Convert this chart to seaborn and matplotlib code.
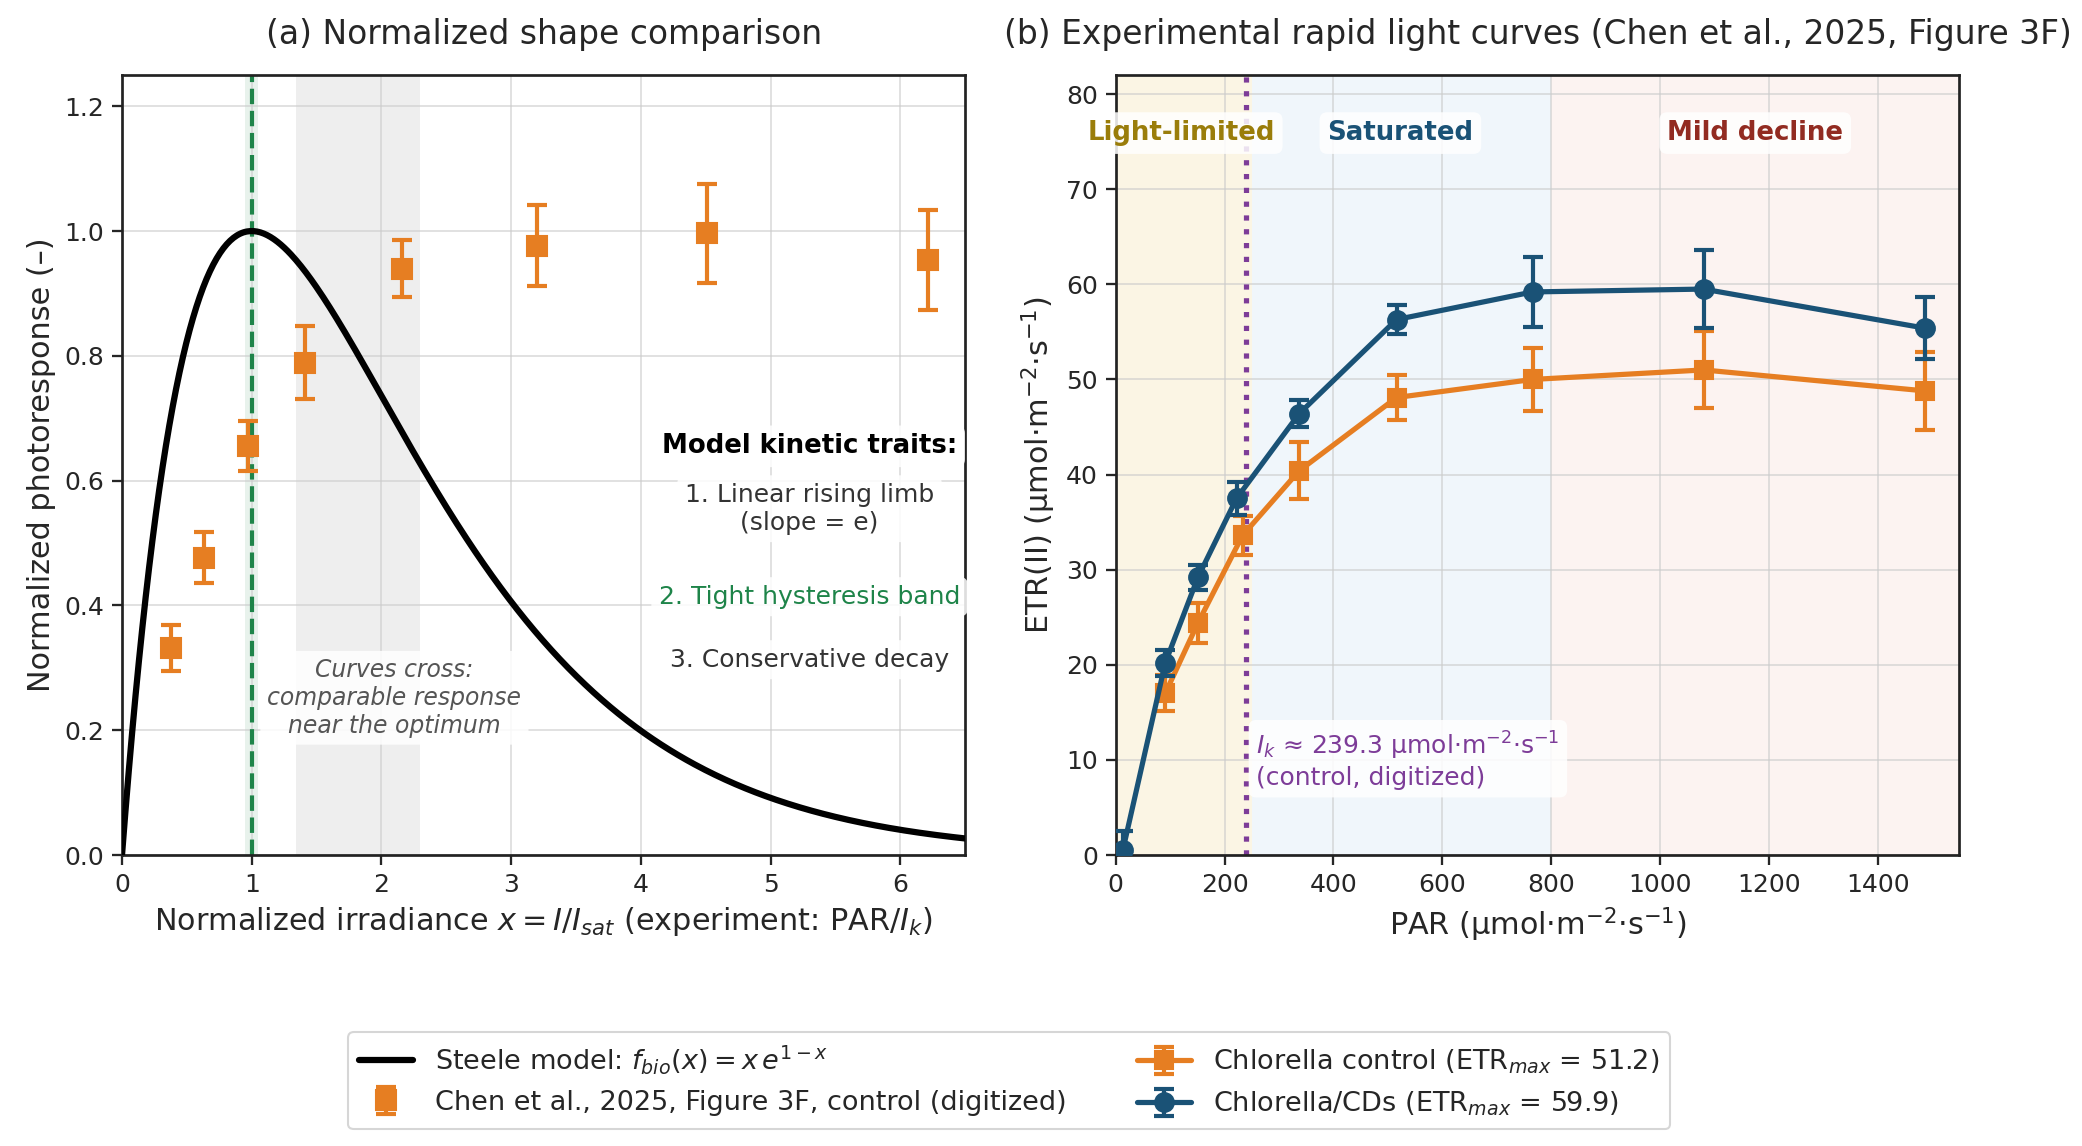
import numpy as np
import pandas as pd
import seaborn as sns
import matplotlib.pyplot as plt

par_ctrl = [91, 151, 233, 337, 516, 766, 1080, 1486]
etr_ctrl = [17.0, 24.4, 33.6, 40.4, 48.1, 50.0, 51.0, 48.8]
err_ctrl = [1.9, 2.1, 2.05, 3.0, 2.35, 3.3, 4.05, 4.1]

par_cds = [13, 91, 151, 222, 337, 516, 766, 1080, 1486]
etr_cds = [0.5, 20.2, 29.2, 37.5, 46.4, 56.3, 59.2, 59.5, 55.4]
err_cds = [2.0, 1.4, 1.3, 1.7, 1.45, 1.5, 3.65, 4.1, 3.3]

ik_ctrl = 239.3
etrmax_ctrl = 51.2
etrmax_cds = 59.9

region_names = ['Light-limited', 'Saturated', 'Mild decline']
region_edges = [0, 250, 800, 1550]

traits = ['1. Linear rising limb\n(slope = e)', '2. Tight hysteresis band', '3. Conservative decay']

orange = '#e67e22'
blue = '#1a5276'
purple = '#7d3c98'
green = '#1e8449'

sns.set_theme(style='ticks')
plt.rcParams['font.family'] = ['DejaVu Sans']

# normalized experiment (x = PAR/Ik, y = ETR/ETRmax)
norm = pd.DataFrame({'x': np.array(par_ctrl) / ik_ctrl,
                     'y': np.array(etr_ctrl) / etrmax_ctrl,
                     'err': np.array(err_ctrl) / etrmax_ctrl})
xs = np.linspace(0, 6.5, 500)
model = pd.DataFrame({'x': xs, 'f': xs * np.exp(1 - xs)})

fig = plt.figure(figsize=(13.88, 7.64), dpi=150)
ax1 = fig.add_axes([0.0586, 0.2539, 0.4050, 0.6806])
ax2 = fig.add_axes([0.5359, 0.2539, 0.4052, 0.6806])

for ax in (ax1, ax2):
    ax.set_axisbelow(True)
    ax.grid(True, color='#cccccc', lw=0.8, alpha=0.7)
    for s in ax.spines.values():
        s.set_color('#222222')
        s.set_linewidth(1.3)
    ax.tick_params(labelsize=12, length=5, width=1.1)

# ---- panel (a)
ax1.axvspan(1.34, 2.30, color='#eeeeee', zorder=0, lw=0)
ax1.axvspan(0.95, 1.05, color=green, alpha=0.1, zorder=0, lw=0)
ax1.axvline(1.0, color=green, ls='--', lw=2, zorder=2)
sns.lineplot(data=model, x='x', y='f', ax=ax1, color='black', lw=3, zorder=3,
             label=r'Steele model: $f_{bio}(x) = x\,e^{1-x}$')
ax1.errorbar(norm['x'], norm['y'], yerr=norm['err'], fmt='s', color=orange, ms=10,
             capsize=5, elinewidth=2, capthick=2, zorder=4,
             label='Chen et al., 2025, Figure 3F, control (digitized)')
ax1.set_xlim(0, 6.5)
ax1.set_ylim(0, 1.25)
ax1.set_xticks(range(7))
ax1.set_xlabel(r'Normalized irradiance $x = I/I_{sat}$ (experiment: PAR/$I_k$)', fontsize=14.5)
ax1.set_ylabel('Normalized photoresponse (–)', fontsize=14.5)
ax1.set_title('(a) Normalized shape comparison', fontsize=15.8, pad=15)

box = dict(boxstyle='round,pad=0.3', facecolor='white', edgecolor='none', alpha=0.85)
ax1.text(5.3, 0.655, 'Model kinetic traits:', ha='center', va='center', fontsize=12.5,
         fontweight='bold', color='black', bbox=box)
ax1.text(5.3, 0.555, traits[0], ha='center', va='center', fontsize=12, color='#333333', bbox=box)
ax1.text(5.3, 0.414, traits[1], ha='center', va='center', fontsize=12, color=green, bbox=box)
ax1.text(5.3, 0.313, traits[2], ha='center', va='center', fontsize=12, color='#333333', bbox=box)
ax1.text(2.1, 0.252, 'Curves cross:\ncomparable response\nnear the optimum', ha='center',
         va='center', fontsize=11.3, style='italic', color='#555555', bbox=box)

# ---- panel (b)
region_fc = ['#fbf5e4', '#f0f6fb', '#fcf3f1']
region_tc = ['#9a7d0a', '#1a5276', '#922b21']
region_lx = [120, 523, 1175]
for i in range(3):
    ax2.axvspan(region_edges[i], region_edges[i + 1], color=region_fc[i], zorder=0, lw=0)
    ax2.text(region_lx[i], 75.9, region_names[i], ha='center', va='center', fontsize=12.5,
             fontweight='bold', color=region_tc[i], bbox=box)

ax2.axvline(ik_ctrl, color=purple, ls=':', lw=2.5, zorder=2)
ax2.text(258, 10, r'$I_k$ ≈ 239.3 μmol·m$^{-2}$·s$^{-1}$' + '\n(control, digitized)',
         ha='left', va='center', fontsize=12, color=purple, bbox=box)

ax2.errorbar(par_ctrl, etr_ctrl, yerr=err_ctrl, fmt='-s', color=orange, ms=9, lw=2.5,
             capsize=5, elinewidth=2, capthick=2, zorder=4,
             label=f'Chlorella control (ETR$_{{max}}$ = {etrmax_ctrl})')
ax2.errorbar(par_cds, etr_cds, yerr=err_cds, fmt='-o', color=blue, ms=9, lw=2.5,
             capsize=5, elinewidth=2, capthick=2, zorder=5,
             label=f'Chlorella/CDs (ETR$_{{max}}$ = {etrmax_cds})')
ax2.set_xlim(0, 1550)
ax2.set_ylim(0, 82)
ax2.set_xticks(range(0, 1401, 200))
ax2.set_xlabel('PAR (μmol·m$^{-2}$·s$^{-1}$)', fontsize=14.5)
ax2.set_ylabel('ETR(II) (μmol·m$^{-2}$·s$^{-1}$)', fontsize=14.5)
ax2.set_title('(b) Experimental rapid light curves (Chen et al., 2025, Figure 3F)', fontsize=15.8, pad=15)

h1, l1 = ax1.get_legend_handles_labels()
h2, l2 = ax2.get_legend_handles_labels()
if ax1.get_legend():
    ax1.get_legend().remove()
fig.legend(h1 + h2, l1 + l2, loc='lower center', bbox_to_anchor=(0.4847, 0.003), ncol=2,
           fontsize=13, frameon=True, columnspacing=2.6, edgecolor='#cccccc')

plt.savefig('out.png', dpi=150)
